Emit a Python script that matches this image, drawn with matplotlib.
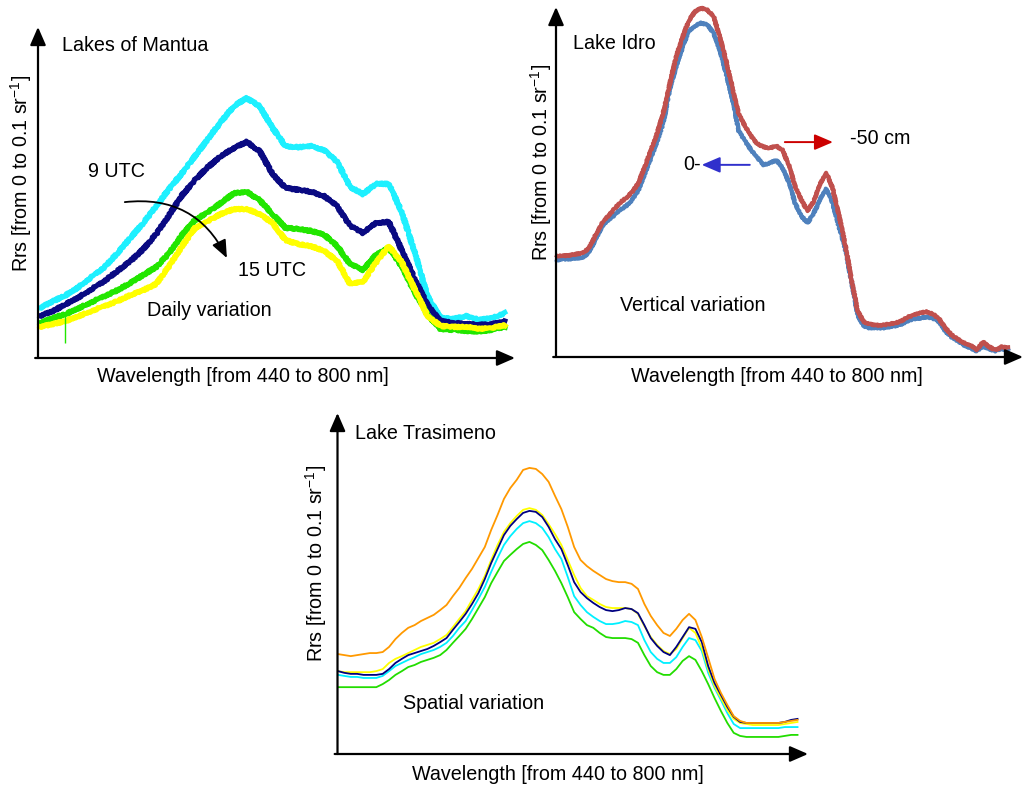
import numpy as np
import matplotlib
matplotlib.use("Agg")
import matplotlib.pyplot as plt

plt.rcParams["font.family"] = ["Liberation Sans", "DejaVu Sans"]
plt.rcParams["mathtext.fontset"] = "custom"
plt.rcParams["mathtext.rm"] = "Liberation Sans"
plt.rcParams["mathtext.it"] = "Liberation Sans"

FS = 14.2
W, H = 1026, 787

# Lakes of Mantua - daily variation, Rrs [sr-1] every 10 nm
mantua_nm = np.arange(440, 801, 10)
mantua_cyan = [0.0151, 0.0172, 0.0190, 0.0215, 0.0245, 0.0275, 0.0317, 0.0363, 0.0408, 0.0459,
               0.0511, 0.0559, 0.0610, 0.0662, 0.0713, 0.0761, 0.0785, 0.0761, 0.0695, 0.0640,
               0.0637, 0.0640, 0.0628, 0.0592, 0.0517, 0.0495, 0.0526, 0.0526, 0.0441, 0.0320,
               0.0187, 0.0121, 0.0118, 0.0127, 0.0115, 0.0121, 0.0136]
mantua_navy = [0.0127, 0.0142, 0.0163, 0.0184, 0.0208, 0.0233, 0.0263, 0.0293, 0.0329, 0.0375,
               0.0432, 0.0492, 0.0538, 0.0577, 0.0610, 0.0634, 0.0653, 0.0625, 0.0556, 0.0514,
               0.0508, 0.0502, 0.0489, 0.0459, 0.0399, 0.0378, 0.0408, 0.0411, 0.0326, 0.0239,
               0.0160, 0.0112, 0.0106, 0.0103, 0.0100, 0.0103, 0.0109]
mantua_green = [0.0106, 0.0121, 0.0133, 0.0151, 0.0169, 0.0187, 0.0205, 0.0227, 0.0251, 0.0275,
                0.0317, 0.0372, 0.0417, 0.0441, 0.0468, 0.0498, 0.0502, 0.0477, 0.0435, 0.0393,
                0.0390, 0.0384, 0.0372, 0.0338, 0.0284, 0.0266, 0.0311, 0.0332, 0.0278, 0.0199,
                0.0130, 0.0088, 0.0085, 0.0082, 0.0079, 0.0085, 0.0094]
mantua_yellow = [0.0094, 0.0103, 0.0112, 0.0127, 0.0142, 0.0157, 0.0172, 0.0190, 0.0205, 0.0224,
                 0.0278, 0.0338, 0.0393, 0.0414, 0.0435, 0.0450, 0.0450, 0.0435, 0.0408, 0.0356,
                 0.0344, 0.0338, 0.0323, 0.0293, 0.0224, 0.0230, 0.0287, 0.0338, 0.0290, 0.0208,
                 0.0127, 0.0097, 0.0094, 0.0094, 0.0088, 0.0091, 0.0100]
# single spike in the green spectrum
spike_nm = 459
spike_rrs = (0.0045, 0.0130)

# Lake Idro - vertical variation, every 5 nm
idro_nm = np.arange(440, 801, 5)
idro_50cm = [0.0289, 0.0289, 0.0291, 0.0294, 0.0297, 0.0309, 0.0343, 0.0377, 0.0400, 0.0420,
             0.0440, 0.0454, 0.0471, 0.0497, 0.0543, 0.0591, 0.0640, 0.0700, 0.0780, 0.0857,
             0.0911, 0.0960, 0.0986, 0.0997, 0.0991, 0.0974, 0.0914, 0.0846, 0.0769, 0.0694,
             0.0660, 0.0631, 0.0609, 0.0600, 0.0597, 0.0603, 0.0591, 0.0549, 0.0489, 0.0449,
             0.0417, 0.0446, 0.0494, 0.0526, 0.0483, 0.0406, 0.0323, 0.0223, 0.0131, 0.0100,
             0.0094, 0.0091, 0.0091, 0.0094, 0.0097, 0.0103, 0.0114, 0.0120, 0.0126, 0.0129,
             0.0123, 0.0109, 0.0083, 0.0063, 0.0051, 0.0040, 0.0034, 0.0020, 0.0043, 0.0029,
             0.0020, 0.0029, 0.0026]
idro_0cm = [0.0277, 0.0280, 0.0280, 0.0283, 0.0283, 0.0297, 0.0331, 0.0366, 0.0389, 0.0403,
            0.0420, 0.0431, 0.0449, 0.0477, 0.0523, 0.0569, 0.0617, 0.0671, 0.0766, 0.0829,
            0.0883, 0.0931, 0.0946, 0.0954, 0.0949, 0.0926, 0.0877, 0.0809, 0.0737, 0.0646,
            0.0617, 0.0591, 0.0569, 0.0549, 0.0554, 0.0563, 0.0540, 0.0500, 0.0440, 0.0403,
            0.0383, 0.0411, 0.0451, 0.0480, 0.0440, 0.0374, 0.0311, 0.0217, 0.0120, 0.0086,
            0.0083, 0.0083, 0.0083, 0.0086, 0.0089, 0.0094, 0.0103, 0.0109, 0.0111, 0.0114,
            0.0111, 0.0100, 0.0074, 0.0057, 0.0046, 0.0034, 0.0026, 0.0017, 0.0031, 0.0023,
            0.0017, 0.0023, 0.0020]

# Lake Trasimeno - spatial variation, every 5 nm
tras_nm = np.arange(440, 801, 5)
tras_orange = [0.0293, 0.0290, 0.0287, 0.0290, 0.0293, 0.0296, 0.0296, 0.0299, 0.0314, 0.0337,
               0.0355, 0.0370, 0.0378, 0.0390, 0.0399, 0.0408, 0.0422, 0.0437, 0.0463, 0.0487,
               0.0516, 0.0543, 0.0575, 0.0607, 0.0657, 0.0701, 0.0748, 0.0780, 0.0804, 0.0833,
               0.0839, 0.0836, 0.0821, 0.0798, 0.0757, 0.0718, 0.0666, 0.0607, 0.0569, 0.0551,
               0.0537, 0.0525, 0.0513, 0.0507, 0.0504, 0.0504, 0.0499, 0.0484, 0.0440, 0.0405,
               0.0378, 0.0355, 0.0346, 0.0367, 0.0393, 0.0411, 0.0393, 0.0343, 0.0282, 0.0220,
               0.0179, 0.0144, 0.0111, 0.0097, 0.0091, 0.0091, 0.0091, 0.0091, 0.0091, 0.0091,
               0.0094, 0.0097, 0.0100]
tras_yellow = [0.0243, 0.0240, 0.0240, 0.0240, 0.0240, 0.0240, 0.0243, 0.0249, 0.0267, 0.0279,
               0.0287, 0.0296, 0.0305, 0.0314, 0.0320, 0.0326, 0.0337, 0.0349, 0.0372, 0.0396,
               0.0419, 0.0452, 0.0484, 0.0522, 0.0569, 0.0613, 0.0651, 0.0677, 0.0698, 0.0716,
               0.0721, 0.0716, 0.0701, 0.0674, 0.0645, 0.0613, 0.0569, 0.0525, 0.0487, 0.0463,
               0.0452, 0.0440, 0.0431, 0.0428, 0.0428, 0.0428, 0.0425, 0.0411, 0.0375, 0.0343,
               0.0320, 0.0302, 0.0293, 0.0308, 0.0340, 0.0370, 0.0355, 0.0311, 0.0249, 0.0199,
               0.0164, 0.0129, 0.0103, 0.0091, 0.0088, 0.0085, 0.0085, 0.0085, 0.0085, 0.0085,
               0.0088, 0.0091, 0.0094]
tras_navy = [0.0243, 0.0238, 0.0235, 0.0235, 0.0232, 0.0232, 0.0232, 0.0235, 0.0249, 0.0267,
             0.0279, 0.0290, 0.0296, 0.0302, 0.0308, 0.0317, 0.0328, 0.0340, 0.0364, 0.0387,
             0.0411, 0.0440, 0.0472, 0.0513, 0.0560, 0.0601, 0.0642, 0.0669, 0.0689, 0.0707,
             0.0713, 0.0710, 0.0695, 0.0666, 0.0630, 0.0601, 0.0554, 0.0504, 0.0475, 0.0457,
             0.0443, 0.0431, 0.0422, 0.0419, 0.0422, 0.0428, 0.0425, 0.0413, 0.0378, 0.0340,
             0.0317, 0.0299, 0.0290, 0.0314, 0.0343, 0.0372, 0.0367, 0.0328, 0.0258, 0.0208,
             0.0173, 0.0138, 0.0109, 0.0094, 0.0091, 0.0091, 0.0091, 0.0091, 0.0091, 0.0091,
             0.0094, 0.0100, 0.0103]
tras_cyan = [0.0232, 0.0229, 0.0226, 0.0226, 0.0223, 0.0223, 0.0223, 0.0229, 0.0243, 0.0258,
             0.0267, 0.0276, 0.0284, 0.0293, 0.0299, 0.0305, 0.0314, 0.0326, 0.0346, 0.0370,
             0.0390, 0.0422, 0.0455, 0.0490, 0.0534, 0.0575, 0.0613, 0.0639, 0.0660, 0.0677,
             0.0683, 0.0677, 0.0663, 0.0636, 0.0601, 0.0572, 0.0519, 0.0463, 0.0437, 0.0416,
             0.0402, 0.0390, 0.0381, 0.0381, 0.0384, 0.0390, 0.0387, 0.0378, 0.0334, 0.0299,
             0.0279, 0.0267, 0.0267, 0.0284, 0.0314, 0.0340, 0.0334, 0.0302, 0.0238, 0.0194,
             0.0158, 0.0120, 0.0088, 0.0076, 0.0076, 0.0076, 0.0076, 0.0076, 0.0076, 0.0076,
             0.0079, 0.0079, 0.0079]
tras_green = [0.0196, 0.0196, 0.0196, 0.0196, 0.0196, 0.0196, 0.0196, 0.0205, 0.0217, 0.0232,
              0.0243, 0.0255, 0.0261, 0.0270, 0.0276, 0.0282, 0.0290, 0.0305, 0.0326, 0.0346,
              0.0367, 0.0396, 0.0428, 0.0460, 0.0501, 0.0534, 0.0566, 0.0584, 0.0601, 0.0616,
              0.0622, 0.0613, 0.0598, 0.0569, 0.0537, 0.0501, 0.0460, 0.0416, 0.0396, 0.0378,
              0.0370, 0.0355, 0.0343, 0.0340, 0.0340, 0.0340, 0.0337, 0.0326, 0.0290, 0.0258,
              0.0240, 0.0232, 0.0232, 0.0249, 0.0273, 0.0287, 0.0276, 0.0243, 0.0205, 0.0164,
              0.0126, 0.0091, 0.0062, 0.0053, 0.0050, 0.0050, 0.0050, 0.0050, 0.0050, 0.0050,
              0.0053, 0.0056, 0.0056]

YLABEL = "Rrs [from 0 to 0.1 sr$^{\\mathregular{-1}}$]"
XLABEL = "Wavelength [from 440 to 800 nm]"


def px_axes(fig, x0, y_top, x1, y_bot):
    # axes box given in pixel corners
    return fig.add_axes([x0 / W, 1 - y_bot / H, (x1 - x0) / W, (y_bot - y_top) / H])


def arrow_axes(ax):
    for s in ax.spines.values():
        s.set_visible(False)
    ax.set_xticks([])
    ax.set_yticks([])
    ax.patch.set_visible(False)
    kw = dict(arrowstyle="-|>,head_length=0.55,head_width=0.24", color="k",
              lw=1.6, mutation_scale=20, shrinkA=0, shrinkB=0)
    ax.annotate("", xy=(0, 1), xytext=(0, 0), xycoords="axes fraction", arrowprops=kw)
    ax.annotate("", xy=(1, 0), xytext=(-0.006, 0), xycoords="axes fraction", arrowprops=kw)


def spectrum(ax, x, y, color, lw, sketch=None):
    line, = ax.plot(x, y, color=color, lw=lw, clip_on=False, solid_joinstyle="round")
    if sketch:
        line.set_sketch_params(*sketch)
    return line


fig = plt.figure(figsize=(W / 100, H / 100), dpi=100)

# --- Lakes of Mantua ---
ax1 = px_axes(fig, 38, 27, 515, 358)
ax1.set_xlim(438.45, 807.7)
ax1.set_ylim(0, 0.1)
arrow_axes(ax1)
noisy = (1.0, 3, 2)
spectrum(ax1, mantua_nm, mantua_cyan, "#1ef0ff", 3.6, noisy)
spectrum(ax1, mantua_nm, mantua_navy, "#0a0a82", 3.6, noisy)
spectrum(ax1, mantua_nm, mantua_green, "#22e600", 3.6, noisy)
spectrum(ax1, mantua_nm, mantua_yellow, "#ffff00", 3.6, noisy)
ax1.vlines(spike_nm, *spike_rrs, color="#22e600", lw=1.0)
ax1.text(0.050, 0.943, "Lakes of Mantua", transform=ax1.transAxes, fontsize=FS, va="center")
ax1.text(0.105, 0.562, "9 UTC", transform=ax1.transAxes, fontsize=FS, va="center")
ax1.text(0.419, 0.263, "15 UTC", transform=ax1.transAxes, fontsize=FS, va="center")
ax1.text(0.2285, 0.145, "Daily variation", transform=ax1.transAxes, fontsize=FS, va="center")
ax1.annotate("", xy=(0.396, 0.302), xytext=(0.182, 0.471), xycoords="axes fraction",
             arrowprops=dict(arrowstyle="-|>,head_length=0.6,head_width=0.25", color="k",
                             lw=1.3, mutation_scale=18, shrinkA=0, shrinkB=0,
                             connectionstyle="arc3,rad=-0.35"))

# --- Lake Idro ---
ax2 = px_axes(fig, 556, 7, 1023, 357)
ax2.set_xlim(439.2, 812.0)
ax2.set_ylim(0, 0.1)
arrow_axes(ax2)
spectrum(ax2, idro_nm, idro_0cm, "#4f81bd", 3.0, (0.7, 3, 2))
spectrum(ax2, idro_nm, idro_50cm, "#c0504d", 3.0, (0.7, 3, 2))
ax2.text(0.036, 0.897, "Lake Idro", transform=ax2.transAxes, fontsize=FS, va="center")
ax2.text(0.137, 0.146, "Vertical variation", transform=ax2.transAxes, fontsize=FS, va="center")
ax2.text(0.630, 0.623, "-50 cm", transform=ax2.transAxes, fontsize=FS, va="center")
ax2.text(0.310, 0.549, "0-", transform=ax2.transAxes, fontsize=FS, va="center", ha="right")
ax2.annotate("", xy=(0.593, 0.614), xytext=(0.490, 0.614), xycoords="axes fraction",
             arrowprops=dict(arrowstyle="-|>,head_length=0.7,head_width=0.3", color="#cc0000",
                             lw=1.4, mutation_scale=16, shrinkA=0, shrinkB=0))
ax2.annotate("", xy=(0.312, 0.549), xytext=(0.415, 0.549), xycoords="axes fraction",
             arrowprops=dict(arrowstyle="-|>,head_length=0.7,head_width=0.3", color="#3030cc",
                             lw=1.4, mutation_scale=16, shrinkA=0, shrinkB=0))

# --- Lake Trasimeno ---
ax3 = px_axes(fig, 337.5, 413, 808, 754)
ax3.set_xlim(439.6, 808.2)
ax3.set_ylim(0, 0.1)
arrow_axes(ax3)
spectrum(ax3, tras_nm, tras_green, "#22dd00", 1.3)
spectrum(ax3, tras_nm, tras_cyan, "#00f0ff", 1.3)
spectrum(ax3, tras_nm, tras_yellow, "#ffff00", 1.3)
spectrum(ax3, tras_nm, tras_navy, "#000080", 1.3)
spectrum(ax3, tras_nm, tras_orange, "#ff9900", 1.3)
ax3.text(0.037, 0.941, "Lake Trasimeno", transform=ax3.transAxes, fontsize=FS, va="center")
ax3.text(0.139, 0.147, "Spatial variation", transform=ax3.transAxes, fontsize=FS, va="center")

# axis titles
for x, y in [(21, 173), (541, 162), (316, 563)]:
    fig.text(x / W, 1 - y / H, YLABEL, rotation=90, fontsize=FS, ha="center", va="center")
for x, y in [(243, 377), (777, 377), (558, 775)]:
    fig.text(x / W, 1 - y / H, XLABEL, fontsize=FS, ha="center", va="center")

fig.savefig("out.png", dpi=100, facecolor="white")
